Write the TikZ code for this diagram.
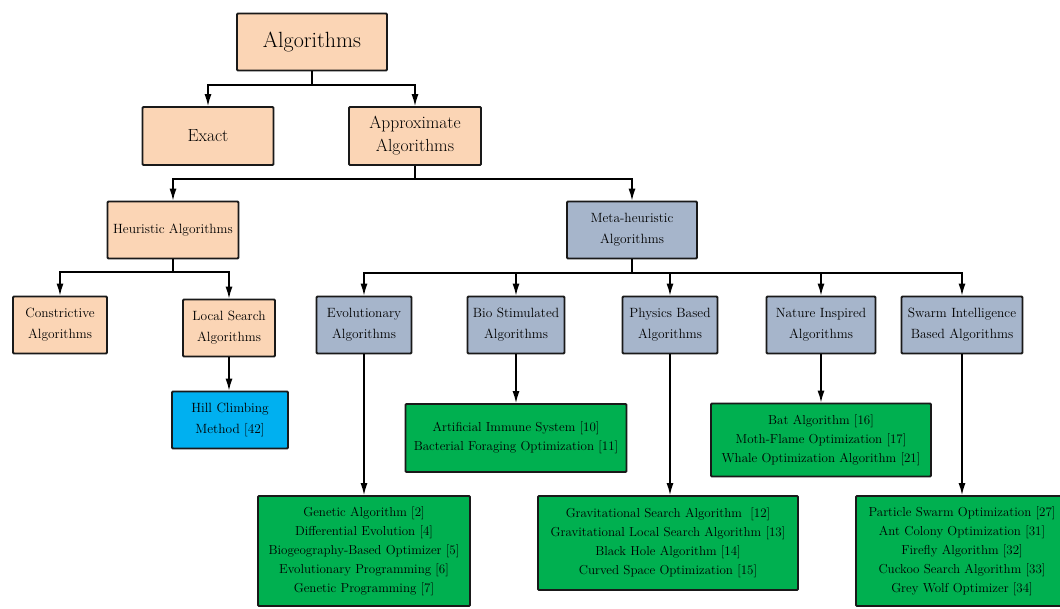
\documentclass[tikz,border=0pt]{standalone}
\usetikzlibrary{arrows.meta}
\definecolor{peach}{HTML}{FBD5B5}
\definecolor{slate}{HTML}{A6B5CB}
\definecolor{grn}{HTML}{00B050}
\definecolor{sky}{HTML}{00B0F0}
\begin{document}
\begin{tikzpicture}[x=1pt,y=-1pt,
 box/.style={draw=black!90, line width=1.8pt, rounded corners=1pt, align=center, inner sep=0pt, text=black},
 lvA/.style={box, fill=peach, font=\fontsize{22}{26}\selectfont},
 lvB/.style={box, fill=peach, font=\fontsize{17.5}{23}\selectfont},
 lvP/.style={box, fill=peach, font=\fontsize{13.4}{21}\selectfont},
 lvS/.style={box, fill=slate, font=\fontsize{13.4}{21}\selectfont},
 leaf/.style={box, fill=grn, font=\fontsize{13}{19}\selectfont},
 hc/.style={box, fill=sky, font=\fontsize{13.4}{21}\selectfont},
 arr/.style={draw=black, line width=1.4pt, -{Latex[length=12pt,width=7pt]}},
]
\clip (0,0) rectangle (1060,608);
\fill[white] (0,0) rectangle (1060,608);

% level 1-2
\node[lvA, minimum width=150pt, minimum height=57pt] (alg) at (312,42) {Algorithms};
\node[lvB, minimum width=131pt, minimum height=58pt] (exact) at (208,136) {Exact};
\node[lvB, minimum width=132pt, minimum height=58pt] (approx) at (415,136) {Approximate\\Algorithms};

% level 3
\node[lvP, minimum width=131pt, minimum height=57pt] (heur) at (173,230) {Heuristic Algorithms};
\node[lvS, minimum width=130pt, minimum height=57pt] (meta) at (632,230) {Meta-heuristic\\Algorithms};

% level 4
\node[lvP, minimum width=94pt, minimum height=57pt] (constr) at (60,325) {Constrictive\\Algorithms};
\node[lvP, minimum width=92pt, minimum height=57pt] (local) at (229,328) {Local Search\\Algorithms};
\node[lvS, minimum width=95pt, minimum height=57pt] (evo) at (364,325) {Evolutionary\\Algorithms};
\node[lvS, minimum width=97pt, minimum height=57pt] (bio) at (516,325) {Bio Stimulated\\Algorithms};
\node[lvS, minimum width=95pt, minimum height=57pt] (phys) at (670,325) {Physics Based\\Algorithms};
\node[lvS, minimum width=109pt, minimum height=57pt] (nat) at (821,325) {Nature Inspired\\Algorithms};
\node[lvS, minimum width=121pt, minimum height=57pt] (swarm) at (962,325) {Swarm Intelligence\\Based Algorithms};

% leaves
\node[hc, minimum width=116pt, minimum height=57pt] (hill) at (230,420) {Hill Climbing\\Method [42]};
\node[leaf, minimum width=221pt, minimum height=68pt] (gbio) at (516,438) {Artificial Immune System [10]\\Bacterial Foraging Optimization [11]};
\node[leaf, minimum width=212pt, minimum height=110pt] (gevo) at (364,551) {Genetic Algorithm [2]\\Differential Evolution [4]\\Biogeography-Based Optimizer [5]\\Evolutionary Programming [6]\\Genetic Programming [7]};
\node[leaf, minimum width=260pt, minimum height=94pt] (gphys) at (668,543) {Gravitational Search Algorithm~~[12]\\Gravitational Local Search Algorithm [13]\\Black Hole Algorithm [14]\\Curved Space Optimization [15]};
\node[leaf, minimum width=220pt, minimum height=73pt] (gnat) at (821,440) {Bat Algorithm [16]\\Moth-Flame Optimization [17]\\Whale Optimization Algorithm [21]};
\node[leaf, minimum width=212pt, minimum height=110pt] (gswarm) at (962,551) {Particle Swarm Optimization [27]\\Ant Colony Optimization [31]\\Firefly Algorithm [32]\\Cuckoo Search Algorithm [33]\\Grey Wolf Optimizer [34]};

% connectors
\draw[arr] (alg.south) -- (alg.south |- 0,85) -| (exact.north);
\draw[arr] (alg.south) -- (alg.south |- 0,85) -| (approx.north);
\draw[arr] (approx.south) -- (approx.south |- 0,179) -| (heur.north);
\draw[arr] (approx.south) -- (approx.south |- 0,179) -| (meta.north);
\draw[arr] (heur.south) -- (heur.south |- 0,272) -| (constr.north);
\draw[arr] (heur.south) -- (heur.south |- 0,272) -| (local.north);
\draw[arr] (meta.south) -- (meta.south |- 0,273) -| (evo.north);
\draw[arr] (meta.south) -- (meta.south |- 0,273) -| (bio.north);
\draw[arr] (meta.south) -- (meta.south |- 0,273) -| (phys.north);
\draw[arr] (meta.south) -- (meta.south |- 0,273) -| (nat.north);
\draw[arr] (meta.south) -- (meta.south |- 0,273) -| (swarm.north);
\draw[arr] (local.south) -- (hill.north -| local.south);
\draw[arr] (evo.south) -- (gevo.north);
\draw[arr] (bio.south) -- (gbio.north);
\draw[arr] (phys.south) -- (gphys.north -| phys.south);
\draw[arr] (nat.south) -- (gnat.north);
\draw[arr] (swarm.south) -- (gswarm.north);
\end{tikzpicture}
\end{document}
